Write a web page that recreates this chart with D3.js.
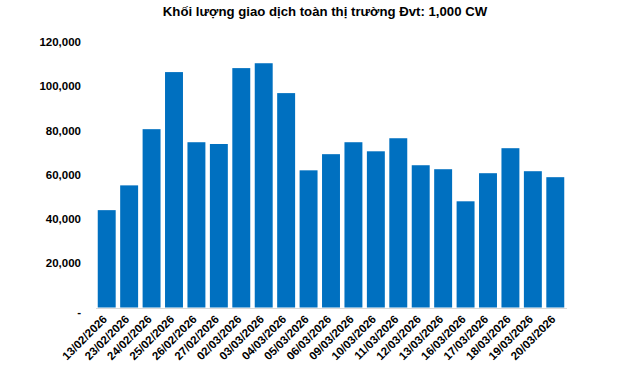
<!DOCTYPE html>
<html><head><meta charset="utf-8">
<script src="https://cdn.jsdelivr.net/npm/d3@7"></script>
<style>body{margin:0;background:#fff}svg{display:block}text{font-family:"Liberation Sans",Arial,sans-serif}</style>
</head><body><svg id="c" width="640" height="368"></svg>
<script>
const categories = ["13/02/2026","23/02/2026","24/02/2026","25/02/2026","26/02/2026","27/02/2026","02/03/2026","03/03/2026","04/03/2026","05/03/2026","06/03/2026","09/03/2026","10/03/2026","11/03/2026","12/03/2026","13/03/2026","16/03/2026","17/03/2026","18/03/2026","19/03/2026","20/03/2026"];
const values = [44000,55200,80600,106400,74700,73900,108200,110400,96900,62000,69300,74700,70600,76500,64300,62500,48000,60700,72000,61600,58900];
const yTicks = [0,20000,40000,60000,80000,100000,120000];
const title = "Khối lượng giao dịch toàn thị trường Đvt: 1,000 CW";

const svg = d3.select("#c");
const x = d3.scaleBand().domain(categories).range([95.5,566.5]).paddingInner(0.2).paddingOuter(0.1);
const y = d3.scaleLinear().domain([0,120000]).range([307.5,42]);

svg.append("text").attr("x",325).attr("y",16).attr("text-anchor","middle")
  .attr("font-size",13.2).attr("font-weight","bold").attr("fill","#000").text(title);

const fmt = d3.format(",");
const ya = svg.append("g").attr("transform","translate(81,0)")
  .call(d3.axisLeft(y).tickValues(yTicks).tickSize(0).tickPadding(0).tickFormat(d=> d===0 ? "-" : fmt(d)));
ya.select(".domain").remove();
ya.selectAll("text").attr("font-size",11.5).attr("font-weight","bold").attr("fill","#000").attr("font-family","Liberation Sans, Arial, sans-serif");
ya.selectAll(".tick").filter(d=>d===0).select("text").attr("dy","0.7em");

svg.append("g").selectAll("rect").data(values).join("rect")
  .attr("x",(d,i)=>x(categories[i])).attr("width",x.bandwidth())
  .attr("y",d=>y(d)).attr("height",d=>y(0)-y(d)).attr("fill","#0070C0");

const xa = svg.append("g").attr("transform","translate(0,308)")
  .call(d3.axisBottom(x).tickSize(0).tickPadding(0));
xa.select(".domain").attr("stroke","#d9d9d9").attr("stroke-width",1.2);
xa.selectAll("text").attr("font-size",11.5).attr("font-weight","bold").attr("fill","#000")
  .attr("font-family","Liberation Sans, Arial, sans-serif")
  .attr("text-anchor","end").attr("dy",0).attr("y",0)
  .attr("transform","translate(1,12) rotate(-45)");
</script></body></html>
